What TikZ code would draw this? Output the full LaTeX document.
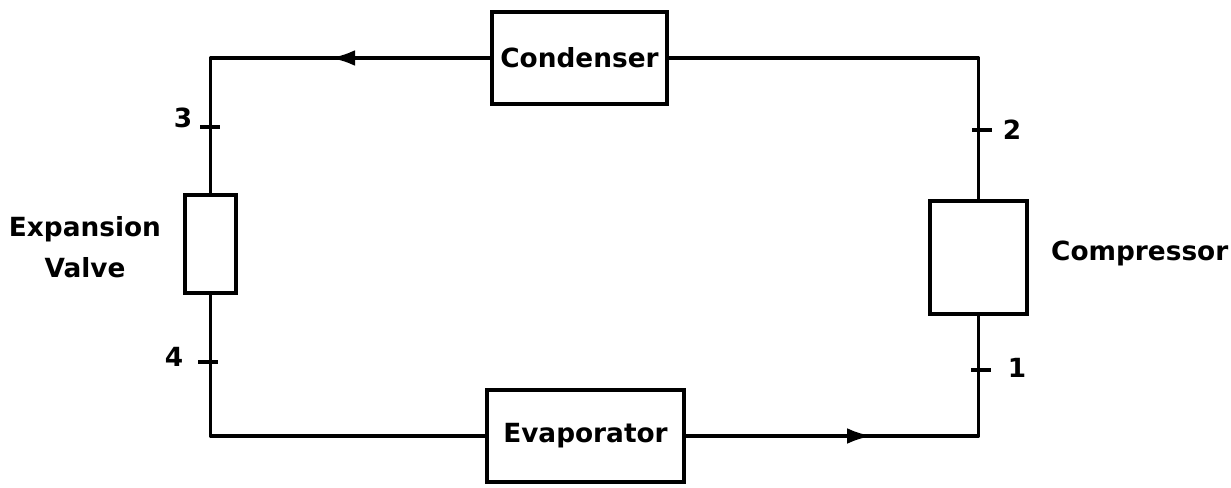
\documentclass[tikz,border=0pt]{standalone}
\usepackage{fontspec}
\setmainfont{DejaVu Sans}
\usetikzlibrary{arrows.meta,decorations.markings}

\begin{document}
\begin{tikzpicture}[x=0.02cm, y=-0.02cm, >=Latex,
    pipe/.style={line width=2pt, line join=round},
    unit/.style={rectangle, draw, line width=2pt, inner sep=0pt, font=\fontsize{15}{18}\bfseries},
    flow/.style={postaction={decorate}, decoration={markings,
        mark=at position #1 with {\arrow{Latex[length=14pt, width=9pt]}}}},
    tag/.style={font=\fontsize{15}{18}\bfseries}]

\useasboundingbox (0,0) rectangle (1231,487);

% components
\node [unit, minimum width=3.5cm, minimum height=1.84cm] (cond) at (579.5,58) {Condenser};
\node [unit, minimum width=1.02cm, minimum height=1.96cm] (valve) at (210.5,244) {};
\node [unit, minimum width=1.94cm, minimum height=2.26cm] (comp) at (978.5,257.5) {};
\node [unit, minimum width=3.94cm, minimum height=1.84cm] (evap) at (585.5,436) {Evaporator};

\node [tag, align=center] (valvelbl) at (85,247) {Expansion\\[5pt]Valve};
\node [tag, anchor=west] (complbl) at (1045,253) {Compressor};

% piping
\draw [pipe, flow=0.385] (cond.west) -| (valve.north);
\draw [pipe] (valve.south) |- (evap.west);
\draw [pipe, flow=0.45] (evap.east) -| (comp.south);
\draw [pipe] (comp.north) |- (cond.east);

% state points
\foreach \px/\py/\lx/\ly/\num in {210/127/183/118/3, 208/362/174/357/4, 982/130/1012/130/2, 981/370/1017/368/1}{
  \draw [pipe] (\px-10,\py) -- (\px+10,\py);
  \node [tag] at (\lx,\ly) {\num};
}

\end{tikzpicture}
\end{document}
